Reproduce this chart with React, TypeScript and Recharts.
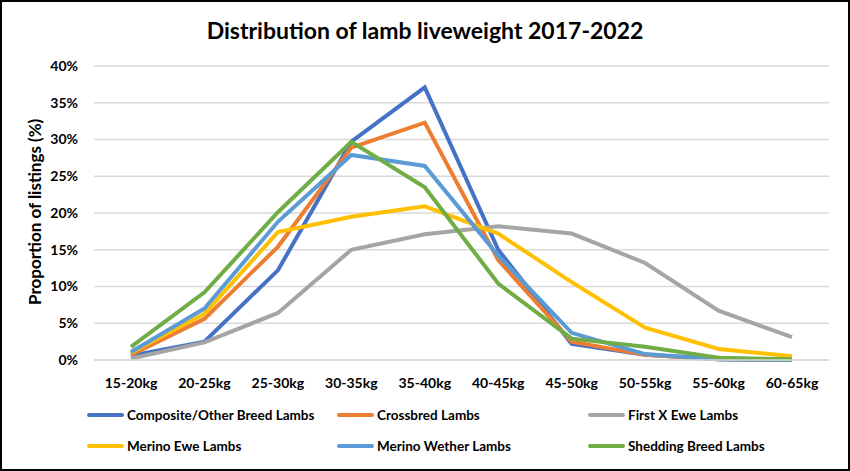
import { CartesianGrid, Legend, Line, LineChart, XAxis, YAxis } from "recharts";

const categories = [
  "15-20kg", "20-25kg", "25-30kg", "30-35kg", "35-40kg",
  "40-45kg", "45-50kg", "50-55kg", "55-60kg", "60-65kg",
];

const composite = [0.6, 2.5, 12.2, 29.7, 37.1, 15.0, 2.2, 0.7, 0.1, 0.0];
const crossbred = [0.7, 5.6, 15.4, 28.9, 32.3, 13.6, 2.5, 0.7, 0.1, 0.0];
const firstX = [0.2, 2.4, 6.4, 15.0, 17.1, 18.2, 17.2, 13.2, 6.7, 3.1];
const merinoEwe = [1.0, 6.3, 17.4, 19.5, 20.9, 17.2, 10.6, 4.4, 1.5, 0.5];
const merinoWether = [1.1, 7.0, 18.8, 27.9, 26.4, 14.2, 3.7, 0.8, 0.1, 0.0];
const shedding = [1.8, 9.2, 20.1, 29.7, 23.5, 10.4, 2.9, 1.8, 0.3, 0.1];

const yTicks = [0, 5, 10, 15, 20, 25, 30, 35, 40];

const series = [
  { key: "composite", name: "Composite/Other Breed Lambs", color: "#4472C4", values: composite },
  { key: "crossbred", name: "Crossbred Lambs", color: "#ED7D31", values: crossbred },
  { key: "firstX", name: "First X Ewe Lambs", color: "#A5A5A5", values: firstX },
  { key: "merinoEwe", name: "Merino Ewe Lambs", color: "#FFC000", values: merinoEwe },
  { key: "merinoWether", name: "Merino Wether Lambs", color: "#5B9BD5", values: merinoWether },
  { key: "shedding", name: "Shedding Breed Lambs", color: "#70AD47", values: shedding },
];

const data = categories.map((category, i) => {
  const row: Record<string, string | number> = { category };
  series.forEach((s) => {
    row[s.key] = s.values[i];
  });
  return row;
});

const font = "Lato, sans-serif";

function LegendGrid() {
  const cols = [53, 303, 554];
  return (
    <div style={{ position: "relative", width: 850, height: 60, fontFamily: font, fontWeight: 700, fontSize: 13.5 }}>
      {series.map((s, i) => (
        <div
          key={s.key}
          style={{
            position: "absolute",
            left: cols[i % 3],
            top: i < 3 ? 17 : 48,
            display: "flex",
            alignItems: "center",
            color: "#000",
            whiteSpace: "nowrap",
          }}
        >
          <span style={{ display: "inline-block", width: 37, height: 4, background: s.color, borderRadius: 2, marginRight: 3 }} />
          {s.name}
        </div>
      ))}
    </div>
  );
}

export default function App() {
  return (
    <div
      style={{
        position: "absolute",
        left: 0,
        top: 0,
        width: 850,
        height: 471,
        border: "2px solid #000",
        boxSizing: "border-box",
        background: "#fff",
        fontFamily: font,
      }}
    >
      <div
        style={{
          position: "absolute",
          top: 14,
          left: 0,
          width: 846,
          textAlign: "center",
          fontSize: 23,
          fontWeight: 700,
          fontFamily: font,
        }}
      >
        Distribution of lamb liveweight 2017-2022
      </div>
      <div style={{ position: "absolute", left: -2, top: -2 }}>
        <LineChart width={850} height={471} data={data} margin={{ top: 66, right: 21, left: 34, bottom: 21 }}>
          <CartesianGrid vertical={false} stroke="#D9D9D9" strokeWidth={1.5} />
          <XAxis
            dataKey="category"
            axisLine={{ stroke: "#D9D9D9", strokeWidth: 1.5 }}
            tickLine={false}
            tickMargin={12}
            height={30}
            interval={0}
            padding={{ left: 37, right: 37 }}
            tick={{ fill: "#000", fontSize: 14, fontWeight: 700, fontFamily: font }}
          />
          <YAxis
            width={60}
            domain={[0, 40]}
            ticks={yTicks}
            tickFormatter={(v) => `${v}%`}
            axisLine={false}
            tickLine={false}
            tickMargin={10}
            tick={{ fill: "#000", fontSize: 14, fontWeight: 700, fontFamily: font }}
            label={{
              value: "Proportion of listings (%)",
              angle: -90,
              position: "insideLeft",
              offset: 0,
              dx: 1,
              dy: 92,
              style: { fill: "#000", fontSize: 17, fontWeight: 700, fontFamily: font },
            }}
          />
          <Legend verticalAlign="bottom" height={60} content={() => <LegendGrid />} />
          {series.map((s) => (
            <Line
              key={s.key}
              type="linear"
              dataKey={s.key}
              name={s.name}
              stroke={s.color}
              strokeWidth={4}
              dot={false}
              isAnimationActive={false}
            />
          ))}
        </LineChart>
      </div>
    </div>
  );
}
